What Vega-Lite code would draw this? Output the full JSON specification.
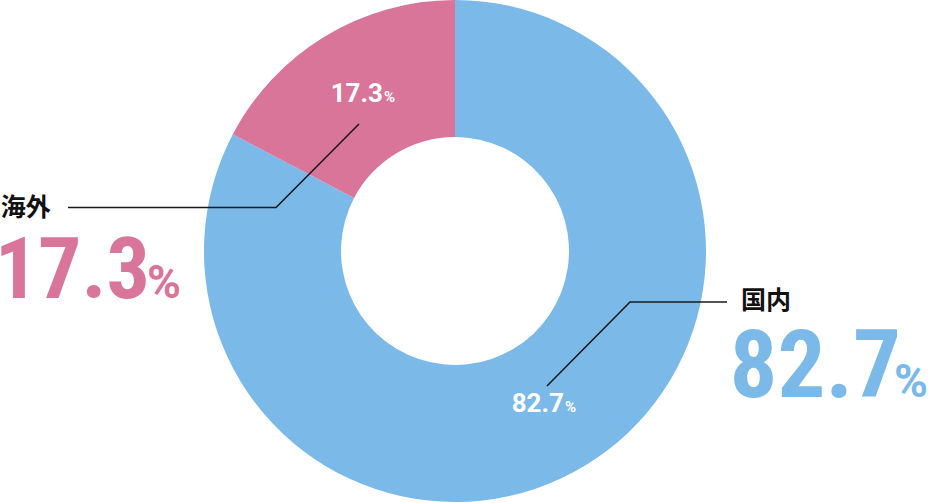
{
  "$schema": "https://vega.github.io/schema/vega-lite/v6.json",
  "width": 931,
  "height": 503,
  "autosize": "none",
  "padding": 0,
  "background": "white",
  "config": {"view": {"stroke": null}},
  "datasets": {
    "share": [
      {"category": "国内", "value": 82.7, "rank": 1},
      {"category": "海外", "value": 17.3, "rank": 2}
    ],
    "labels": [
      {"category": "国内", "num": "82.7", "pct": "%", "nameX": 1.139, "nameY": -0.199, "bigX": 1.777, "pctX": 1.749, "bigY": -0.582, "smallX": 0.434, "smallY": -0.641},
      {"category": "海外", "num": "17.3", "pct": "%", "nameX": -1.81, "nameY": 0.171, "bigX": -1.2151, "pctX": -1.227, "bigY": -0.187, "smallX": -0.287, "smallY": 0.594}
    ],
    "leaders": [
      {"category": "海外", "seq": 0, "x": -0.3825, "y": 0.506},
      {"category": "海外", "seq": 1, "x": -0.713, "y": 0.1733},
      {"category": "海外", "seq": 2, "x": -1.5418, "y": 0.1733},
      {"category": "国内", "seq": 0, "x": 0.3665, "y": -0.5378},
      {"category": "国内", "seq": 1, "x": 0.6972, "y": -0.2032},
      {"category": "国内", "seq": 2, "x": 1.0837, "y": -0.2032}
    ]
  },
  "layer": [
    {
      "data": {"name": "share"},
      "mark": {"type": "arc", "innerRadius": 114, "outerRadius": 251},
      "encoding": {
        "theta": {"field": "value", "type": "quantitative", "stack": true},
        "order": {"field": "rank", "type": "quantitative"},
        "color": {"field": "category", "type": "nominal", "scale": {"domain": ["国内", "海外"], "range": ["#7BB9E9", "#D87598"]}, "legend": null},
        "x": {"datum": 0, "type": "quantitative", "scale": {"domain": [-1.8127, 1.8964], "nice": false, "zero": false}, "axis": null},
        "y": {"datum": 0, "type": "quantitative", "scale": {"domain": [-1.004, 1.0], "nice": false, "zero": false}, "axis": null}
      }
    },
    {
      "data": {"name": "leaders"},
      "mark": {"type": "line", "color": "#1a1a1a", "strokeWidth": 1.6},
      "encoding": {
        "x": {"field": "x", "type": "quantitative"},
        "y": {"field": "y", "type": "quantitative"},
        "detail": {"field": "category"},
        "order": {"field": "seq", "type": "quantitative"}
      }
    },
    {
      "data": {"name": "labels"},
      "mark": {"type": "text", "align": "left", "baseline": "middle", "font": "Noto Sans CJK JP", "fontWeight": "bold", "fontSize": 25, "color": "#111"},
      "encoding": {
        "x": {"field": "nameX", "type": "quantitative"},
        "y": {"field": "nameY", "type": "quantitative"},
        "text": {"field": "category"}
      }
    },
    {
      "data": {"name": "labels"},
      "mark": {"type": "text", "align": "right", "baseline": "alphabetic", "font": "Roboto Condensed", "fontWeight": "bold"},
      "encoding": {
        "x": {"field": "bigX", "type": "quantitative"},
        "y": {"field": "bigY", "type": "quantitative"},
        "text": {"field": "num"},
        "color": {"field": "category", "type": "nominal"},
        "size": {"field": "category", "type": "nominal", "scale": {"domain": ["国内", "海外"], "range": [95, 86]}, "legend": null}
      }
    },
    {
      "data": {"name": "labels"},
      "mark": {"type": "text", "align": "left", "baseline": "alphabetic", "font": "Roboto", "fontWeight": "bold", "fontSize": 46},
      "encoding": {
        "x": {"field": "pctX", "type": "quantitative"},
        "y": {"field": "bigY", "type": "quantitative"},
        "text": {"field": "pct"},
        "color": {"field": "category", "type": "nominal"}
      }
    },
    {
      "data": {"name": "labels"},
      "mark": {"type": "text", "align": "right", "baseline": "alphabetic", "font": "Roboto", "fontWeight": "bold", "fontSize": 26, "color": "white"},
      "encoding": {
        "x": {"field": "smallX", "type": "quantitative"},
        "y": {"field": "smallY", "type": "quantitative"},
        "text": {"field": "num"}
      }
    },
    {
      "data": {"name": "labels"},
      "mark": {"type": "text", "align": "left", "baseline": "alphabetic", "font": "Roboto", "fontWeight": "bold", "fontSize": 15, "color": "white", "dx": 1},
      "encoding": {
        "x": {"field": "smallX", "type": "quantitative"},
        "y": {"field": "smallY", "type": "quantitative"},
        "text": {"field": "pct"}
      }
    }
  ]
}
